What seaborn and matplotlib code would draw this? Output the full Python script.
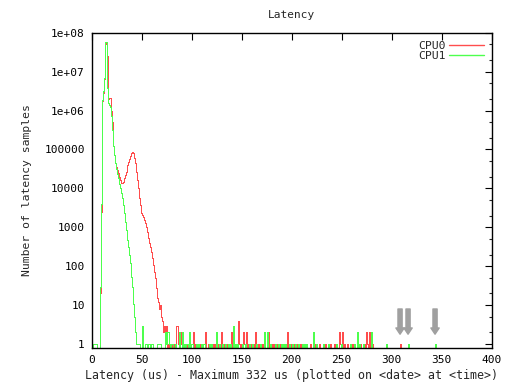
import numpy as np
import matplotlib
matplotlib.use("Agg")
import matplotlib.pyplot as plt
import matplotlib.ticker as mticker
import seaborn as sns

# latency histogram, one bin per microsecond, counts
# main body: bins 0 .. n-1
cpu0_head = [0, 0, 0, 0, 0, 0, 0, 0, 20, 2500,
             1800000, 2800000, 6300000, 56000000, 50000000, 25000000, 2000000, 2100000, 2100000, 1000000,
             500000, 126000, 71000, 45000, 35000, 30000, 25000, 20000, 16000, 14000,
             13500, 14500, 18500, 22000, 27000, 40000, 49000, 56000, 68000, 83000,
             85000, 83000, 59000, 44000, 27000, 16600, 10000, 5600, 3700, 2300,
             2100, 1800, 1550, 1260, 1000, 780, 520, 400, 320, 230,
             160, 110, 72, 50, 28, 15, 12, 8, 10, 5,
             4, 2, 3]
cpu1_head = [0, 1, 1, 1, 1, 0, 0, 0, 30, 4000,
             1900000, 3200000, 6800000, 59000000, 59000000, 3700000, 1600000, 1400000, 1260000, 710000,
             320000, 126000, 71000, 45000, 32000, 23000, 18000, 13000, 10000, 7400,
             5600, 3700, 2300, 1400, 850, 470, 320, 195, 120, 54,
             30, 11, 5, 2, 1, 1, 1, 1]

# sparse tail: (bin, count) for the non-empty bins
cpu0_tail = [(73, 1), (74, 3), (76, 1), (78, 1), (80, 1), (82, 1), (84, 3), (85, 3), (86, 1),
             (88, 2), (89, 1), (92, 1), (93, 1), (95, 1), (101, 2), (103, 1), (105, 1), (108, 1),
             (110, 1), (113, 2), (116, 1), (118, 1), (121, 1), (123, 1), (126, 1), (129, 2),
             (132, 1), (135, 1), (139, 2), (142, 1), (144, 1), (146, 4), (147, 1), (149, 1),
             (151, 2), (152, 1), (154, 2), (156, 1), (159, 1), (161, 1), (163, 2), (166, 1),
             (168, 1), (170, 1), (176, 2), (179, 1), (181, 1), (184, 1), (187, 1), (190, 1),
             (195, 2), (198, 1), (201, 1), (204, 1), (208, 1), (213, 1), (218, 1), (222, 1),
             (227, 1), (233, 1), (238, 1), (242, 1), (247, 2), (248, 1), (250, 2), (252, 1),
             (255, 1), (260, 1), (265, 1), (268, 1), (272, 1), (274, 2), (275, 1), (277, 2),
             (280, 1), (308, 1)]
cpu1_tail = [(50, 3), (53, 1), (54, 1), (56, 1), (57, 1), (59, 1), (60, 1), (65, 1), (66, 1),
             (67, 1), (68, 1), (73, 2), (74, 1), (75, 2), (76, 2), (77, 1), (79, 1), (80, 1),
             (83, 1), (87, 2), (90, 2), (92, 1), (94, 1), (95, 1), (97, 2), (99, 1), (100, 1),
             (104, 1), (106, 1), (109, 1), (111, 1), (112, 1), (117, 1), (119, 1), (124, 2),
             (127, 1), (130, 1), (133, 1), (136, 1), (138, 1), (141, 3), (143, 1), (145, 1),
             (150, 1), (153, 1), (157, 1), (160, 1), (164, 1), (168, 1), (172, 2), (175, 2),
             (178, 1), (183, 1), (186, 1), (189, 1), (191, 1), (193, 1), (197, 1), (200, 1),
             (203, 1), (206, 1), (210, 1), (212, 1), (214, 1), (221, 2), (224, 1), (231, 1),
             (236, 1), (244, 1), (249, 1), (258, 1), (262, 1), (265, 2), (267, 1), (271, 1),
             (279, 2), (294, 1), (316, 1), (343, 1)]

# highest samples, marked with arrows
max_bins = [308, 316, 343]

ytick_vals = [1, 10, 100, 1000, 10000, 100000, 1e6, 1e7, 1e8]
ytick_labels = ["1", "10", "100", "1000", "10000", "100000", "1e+06", "1e+07", "1e+08"]
xtick_vals = [0, 50, 100, 150, 200, 250, 300, 350, 400]

latency = np.arange(0, 401)


def dense(head, tail):
    counts = np.zeros(len(latency))
    counts[:len(head)] = head
    for b, c in tail:
        counts[b] = c
    # empty bins fall below the axis like in gnuplot
    return np.where(counts > 0, counts, 1e-3)


c0 = dense(cpu0_head, cpu0_tail)
c1 = dense(cpu1_head, cpu1_tail)

sns.set_style("white")
plt.rcParams["font.family"] = ["DejaVu Sans Mono"]
plt.rcParams["font.size"] = 8

fig, ax = plt.subplots(figsize=(5.12, 3.84), dpi=100)
fig.subplots_adjust(left=0.179, right=0.960, bottom=0.0945, top=0.915)

red = "#ff4d4d"
green = "#4dff4d"
sns.lineplot(x=latency, y=c0, drawstyle="steps-post", color=red, lw=0.72,
             label="CPU0", estimator=None, ax=ax, antialiased=False)
sns.lineplot(x=latency, y=c1, drawstyle="steps-post", color=green, lw=0.72,
             label="CPU1", estimator=None, ax=ax, antialiased=False)

ax.set_yscale("log")
ax.set_xlim(0, 400)
ax.set_ylim(0.81, 1e8)

ax.yaxis.set_major_locator(mticker.FixedLocator(ytick_vals))
ax.yaxis.set_major_formatter(mticker.FixedFormatter(ytick_labels))
ax.yaxis.set_minor_locator(mticker.LogLocator(base=10, subs=[2, 5]))
ax.yaxis.set_minor_formatter(mticker.NullFormatter())
ax.set_xticks(xtick_vals)

ax.tick_params(which="major", direction="in", length=5, width=0.8, top=True, right=True,
               labelsize=8, pad=5, colors="black")
ax.tick_params(which="minor", direction="in", length=2.5, width=0.8, top=True, right=True)
for s in ax.spines.values():
    s.set_color("black")
    s.set_linewidth(1.0)

for b in max_bins:
    ax.annotate("", xy=(b + 0.5, 1.8), xytext=(b + 0.5, 8),
                arrowprops=dict(arrowstyle="simple,head_length=0.45,head_width=0.6,tail_width=0.3",
                                color="#a0a0a0", shrinkA=0, shrinkB=0, mutation_scale=10))

ax.text(0.5, 1.056, "Latency", transform=ax.transAxes, ha="center", va="center", fontsize=8)
fig.text(291.7 / 512, 1 - 375 / 384, "Latency (us) - Maximum 332 us (plotted on <date> at <time>)",
         ha="center", va="center", fontsize=8.4)
fig.text(27 / 512, 1 - 190 / 384, "Number of latency samples", rotation=90,
         ha="center", va="center", fontsize=8.2)

leg = ax.legend(loc="upper right", frameon=False, markerfirst=False, handlelength=3,
                handletextpad=0.3, labelspacing=0.0, fontsize=8.2, borderaxespad=0.3)
for h in leg.get_lines():
    h.set_linewidth(1.0)
    h.set_antialiased(True)

fig.savefig("out.png", dpi=100)
